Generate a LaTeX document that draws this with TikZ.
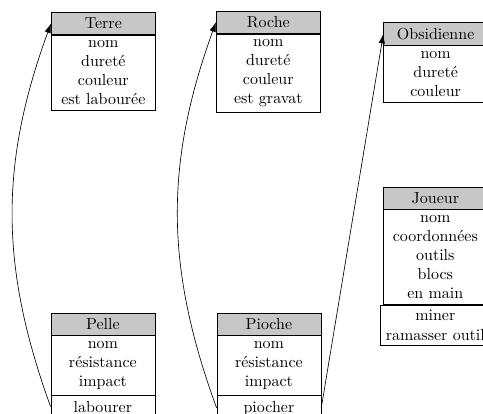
\documentclass[tikz,border=0pt]{standalone}
\usepackage{tikz}
\usetikzlibrary{shapes.geometric, arrows, arrows.meta, positioning}
\tikzstyle{arrow} = [->,>={Latex[length=6pt,width=4pt]}]
\tikzstyle{classname} = [draw, fill=black!22, minimum width=65pt, anchor=north west]
\tikzstyle{classpart} = [draw, fill=white, align=center, minimum width=65pt]

\begin{document}
\begin{tikzpicture}
\clip (0,0) rectangle (301.9pt,258.75pt);

\node[classname] (terretitle) at (31.9pt,251.1pt) {Terre};
\node[classpart, below=0pt of terretitle] (terreattributes) {nom\\dureté\\couleur\\est labourée};

\node[classname] (rochetitle) at (135pt,252pt) {Roche};
\node[classpart, below=0pt of rochetitle] (rocheattributes) {nom\\dureté\\couleur\\est gravat};

\node[classname] (obsidiennetitle) at (239.6pt,244.8pt) {Obsidienne};
\node[classpart, below=0pt of obsidiennetitle] (obsidienneattributes) {nom\\dureté\\couleur};

\node[classname] (joueurtitle) at (239.4pt,142.1pt) {Joueur};
\node[classpart, below=0pt of joueurtitle] (joueurattributes) {nom\\coordonnées\\outils\\blocs\\en main};
\node[classpart, below=0pt of joueurattributes] (joueurmethods) {miner\\ramasser outil};

\node[classname] (pelletitle) at (31.6pt,63.3pt) {Pelle};
\node[classpart, below=0pt of pelletitle] (pelleattributes) {nom\\résistance\\impact};
\node[classpart, below=0pt of pelleattributes] (pellemethods) {labourer};

\node[classname] (piochetitle) at (135.4pt,63.3pt) {Pioche};
\node[classpart, below=0pt of piochetitle] (piocheattributes) {nom\\résistance\\impact};
\node[classpart, below=0pt of piocheattributes] (piochemethods) {piocher};

\draw[arrow] (pellemethods.west) to[bend left=20] (terretitle.west);
\draw[arrow] (piochemethods.west) to[bend left=20] (rochetitle.west);
\draw[arrow] (piochemethods.east) -- (obsidiennetitle.west);
\end{tikzpicture}
\end{document}
